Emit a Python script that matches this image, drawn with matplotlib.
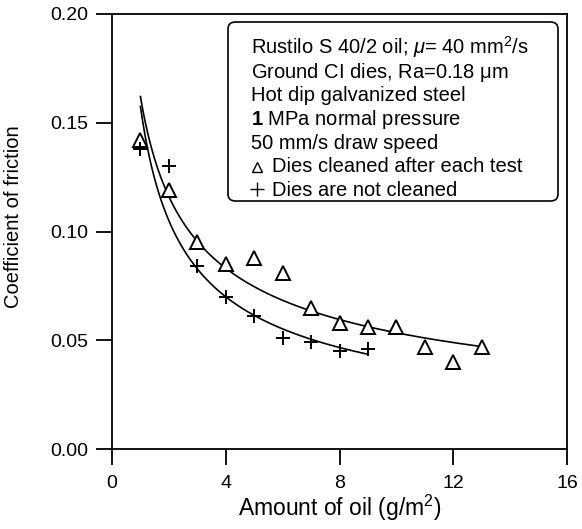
import numpy as np
import matplotlib
matplotlib.use("Agg")
import matplotlib.pyplot as plt
from matplotlib.patches import FancyBboxPatch
from matplotlib.lines import Line2D

plt.rcParams['font.family'] = ['Liberation Sans', 'DejaVu Sans']
plt.rcParams['mathtext.fontset'] = 'custom'
plt.rcParams['mathtext.rm'] = 'Liberation Sans'
plt.rcParams['mathtext.it'] = 'Liberation Sans:italic'
plt.rcParams['mathtext.bf'] = 'Liberation Sans:bold'

# Data
oil_cleaned = [1, 2, 3, 4, 5, 6, 7, 8, 9, 10, 11, 12, 13]
cof_cleaned = [0.142, 0.119, 0.095, 0.085, 0.088, 0.081, 0.065, 0.058, 0.056, 0.056, 0.047, 0.040, 0.047]
oil_notcleaned = [1, 2, 3, 4, 5, 6, 7, 8, 9]
cof_notcleaned = [0.138, 0.130, 0.084, 0.070, 0.061, 0.051, 0.049, 0.045, 0.046]

x_ticks = [0, 4, 8, 12, 16]
y_ticks = [0.00, 0.05, 0.10, 0.15, 0.20]

info_lines = ["Rustilo S 40/2 oil; $\\mathit{\\mu}$= 40 mm$^2$/s",
              "Ground CI dies, Ra=0.18 $\\mathrm{\\mu}$m",
              "Hot dip galvanized steel",
              "$\\mathbf{1}$ MPa normal pressure",
              "50 mm/s draw speed"]
series_labels = ["Dies cleaned after each test", "Dies are not cleaned"]

W, H = 582, 529
fig = plt.figure(figsize=(W / 100, H / 100), dpi=100)
ax = fig.add_axes([112 / W, 1 - 449 / H, 455 / W, 435 / H])


def power_fit(x, y):
    x = np.asarray(x, float)
    y = np.asarray(y, float)
    b, lna = np.polyfit(np.log(x), np.log(y), 1)
    xs = np.linspace(x.min(), x.max(), 200)
    return xs, np.exp(lna) * xs ** b


xs1, ys1 = power_fit(oil_cleaned, cof_cleaned)
xs2, ys2 = power_fit(oil_notcleaned, cof_notcleaned)
ax.plot(xs1, ys1, color='black', lw=1.2)
ax.plot(xs2, ys2, color='black', lw=1.2)

tri_style = dict(ls='none', marker='^', ms=9.5, mfc='white', mec='black', mew=1.4)
plus_style = dict(ls='none', marker='+', ms=10.5, mec='black', mew=1.4)
ax.plot(oil_cleaned, cof_cleaned, **tri_style)
ax.plot(oil_notcleaned, cof_notcleaned, **plus_style)

ax.set_xlim(0, 16)
ax.set_ylim(0, 0.20)
ax.set_xticks(x_ticks)
ax.set_yticks(y_ticks)
ax.set_xticklabels([str(v) for v in x_ticks])
ax.set_yticklabels([f"{v:.2f}" for v in y_ticks])
ax.tick_params(direction='out', length=11.5, width=1.3, labelsize=14,
               top=False, right=False)
ax.tick_params(axis='x', pad=7)
ax.tick_params(axis='y', pad=5.5)
for s in ax.spines.values():
    s.set_linewidth(1.3)

ax.set_xlabel('Amount of oil (g/m$^2$)', fontsize=16.5, labelpad=1)
ax.set_ylabel('Coefficient of friction', fontsize=14.5)
ax.yaxis.set_label_coords(-0.1956, 0.533)


# Info / legend box (pixel layout converted to figure fractions)
def fx(px):
    return px / W


def fy(py):
    return 1 - py / H


box = FancyBboxPatch((fx(228), fy(201)), fx(558) - fx(228), fy(22) - fy(201),
                     boxstyle="round,pad=0,rounding_size=0.013",
                     transform=fig.transFigure, facecolor='white',
                     edgecolor='black', lw=1.2, zorder=5)
fig.patches.append(box)

base0, step = 54, 23.67
for i, line in enumerate(info_lines):
    fig.text(fx(251), fy(base0 + i * step), line, fontsize=14.5,
             va='baseline', ha='left', zorder=6)

for j, (lab, style, dy) in enumerate(zip(series_labels, [tri_style, plus_style], [5, 7])):
    yb = base0 + (len(info_lines) + j) * step
    st = dict(style)
    st['ms'] = style['ms'] * (0.75 if style['marker'] == '^' else 1.0)
    st['mew'] = 1.0
    fig.add_artist(Line2D([fx(257)], [fy(yb - dy)], transform=fig.transFigure,
                          zorder=6, **st))
    fig.text(fx(272), fy(yb), lab, fontsize=14.5, va='baseline', ha='left', zorder=6)

fig.savefig('out.png', dpi=100)
